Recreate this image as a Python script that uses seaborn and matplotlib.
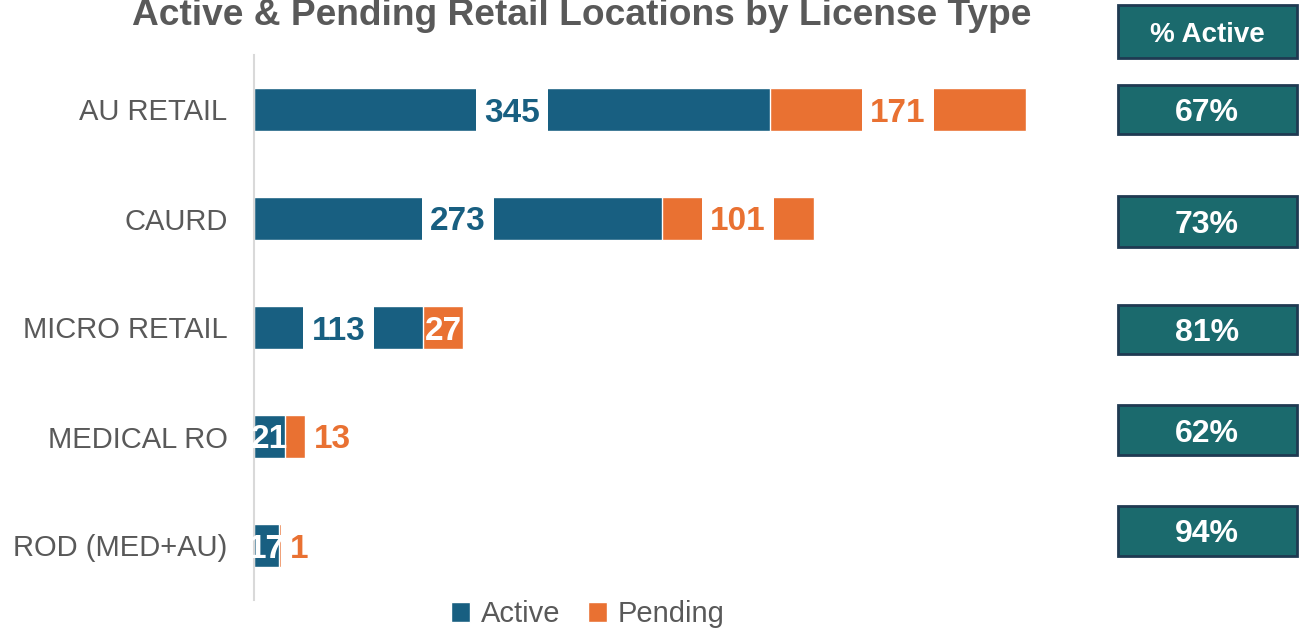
"""Active & pending retail locations by license type."""

import matplotlib.pyplot as plt
from matplotlib.patches import Rectangle
import seaborn as sns
import pandas as pd

CATEGORIES = ['AU RETAIL', 'CAURD', 'MICRO RETAIL', 'MEDICAL RO', 'ROD (MED+AU)']
ACTIVE = [345, 273, 113, 21, 17]
PENDING = [171, 101, 27, 13, 1]
PCT_ACTIVE = ['67%', '73%', '81%', '62%', '94%']

BLUE = '#185f81'
ORANGE = '#e97132'
TEAL = '#1b6a6d'
GREY = '#595959'

sns.set_theme(style='white')
plt.rcParams['font.family'] = ['Liberation Sans', 'DejaVu Sans']

df = pd.DataFrame({'cat': CATEGORIES, 'active': ACTIVE, 'pending': PENDING})
df['total'] = df['active'] + df['pending']

fig = plt.figure(figsize=(13.01, 6.31), dpi=100)
ax = fig.add_axes([254 / 1301, 1 - 600 / 631, 846 / 1301, 545 / 631])

# stacked bars: totals in orange underneath, active in blue on top
sns.barplot(data=df, x='total', y='cat', orient='h', color=ORANGE, width=0.4,
            saturation=1, ax=ax, label='Pending')
sns.barplot(data=df, x='active', y='cat', orient='h', color=BLUE, width=0.4,
            saturation=1, ax=ax, label='Active')
handles, labels = ax.get_legend_handles_labels()
if ax.get_legend() is not None:
    ax.get_legend().remove()

ax.set_xlim(0, 565.5)
ax.set_ylim(4.5, -0.5)
ax.set_xlabel('')
ax.set_ylabel('')
ax.set_xticks([])
for side in ['top', 'right', 'bottom']:
    ax.spines[side].set_visible(False)
ax.spines['left'].set_color('#d9d9d9')
ax.spines['left'].set_linewidth(1.5)
ax.tick_params(axis='y', length=0, pad=19, labelsize=21, labelcolor=GREY)

LBL = 24
box = dict(boxstyle='square,pad=0.25', fc='white', ec='none')
for i, (a, p) in enumerate(zip(ACTIVE, PENDING)):
    if i < 3:
        ax.text(a / 2, i, str(a), ha='center', va='center_baseline', fontsize=LBL,
                fontweight='bold', color=BLUE, bbox=box)
    else:
        ax.text(a / 2, i, str(a), ha='center', va='center_baseline', fontsize=LBL,
                fontweight='bold', color='white')
    if i < 2:
        ax.text(a + p / 2, i, str(p), ha='center', va='center_baseline', fontsize=LBL,
                fontweight='bold', color=ORANGE, bbox=box)
    elif i == 2:
        ax.text(a + p / 2, i, str(p), ha='center', va='center_baseline', fontsize=LBL,
                fontweight='bold', color='white')
    else:
        ax.text(a + p + 6, i, str(p), ha='left', va='center_baseline', fontsize=LBL,
                fontweight='bold', color=ORANGE)

fig.text(582 / 1301, 1 - 25 / 631, 'Active & Pending Retail Locations by License Type',
         ha='center', va='baseline', fontsize=26.7, fontweight='bold', color=GREY)

# % active panel on the right
panel = [('% Active', 5, 58, 20)] + [
    (PCT_ACTIVE[0], 85, 134, 23), (PCT_ACTIVE[1], 196, 247, 23),
    (PCT_ACTIVE[2], 305, 354, 23), (PCT_ACTIVE[3], 405, 455, 23),
    (PCT_ACTIVE[4], 506, 556, 23)]
for txt, top, bot, size in panel:
    fig.patches.append(Rectangle((1118 / 1301, 1 - bot / 631), 179 / 1301,
                                 (bot - top) / 631, transform=fig.transFigure,
                                 fc=TEAL, ec='#1f3a52', lw=2))
    fig.text(1207 / 1301, 1 - (top + bot) / 2 / 631, txt, ha='center',
             va='center_baseline', fontsize=size, fontweight='bold', color='white')

order = [labels.index('Active'), labels.index('Pending')]
fig.legend([handles[k] for k in order], ['Active', 'Pending'], loc='center',
           bbox_to_anchor=(588 / 1301, 1 - 614 / 631), ncol=2, frameon=False,
           fontsize=21, labelcolor=GREY, handlelength=0.65, handleheight=0.7,
           handletextpad=0.38, columnspacing=0.93)

fig.savefig('out.png', dpi=100)
